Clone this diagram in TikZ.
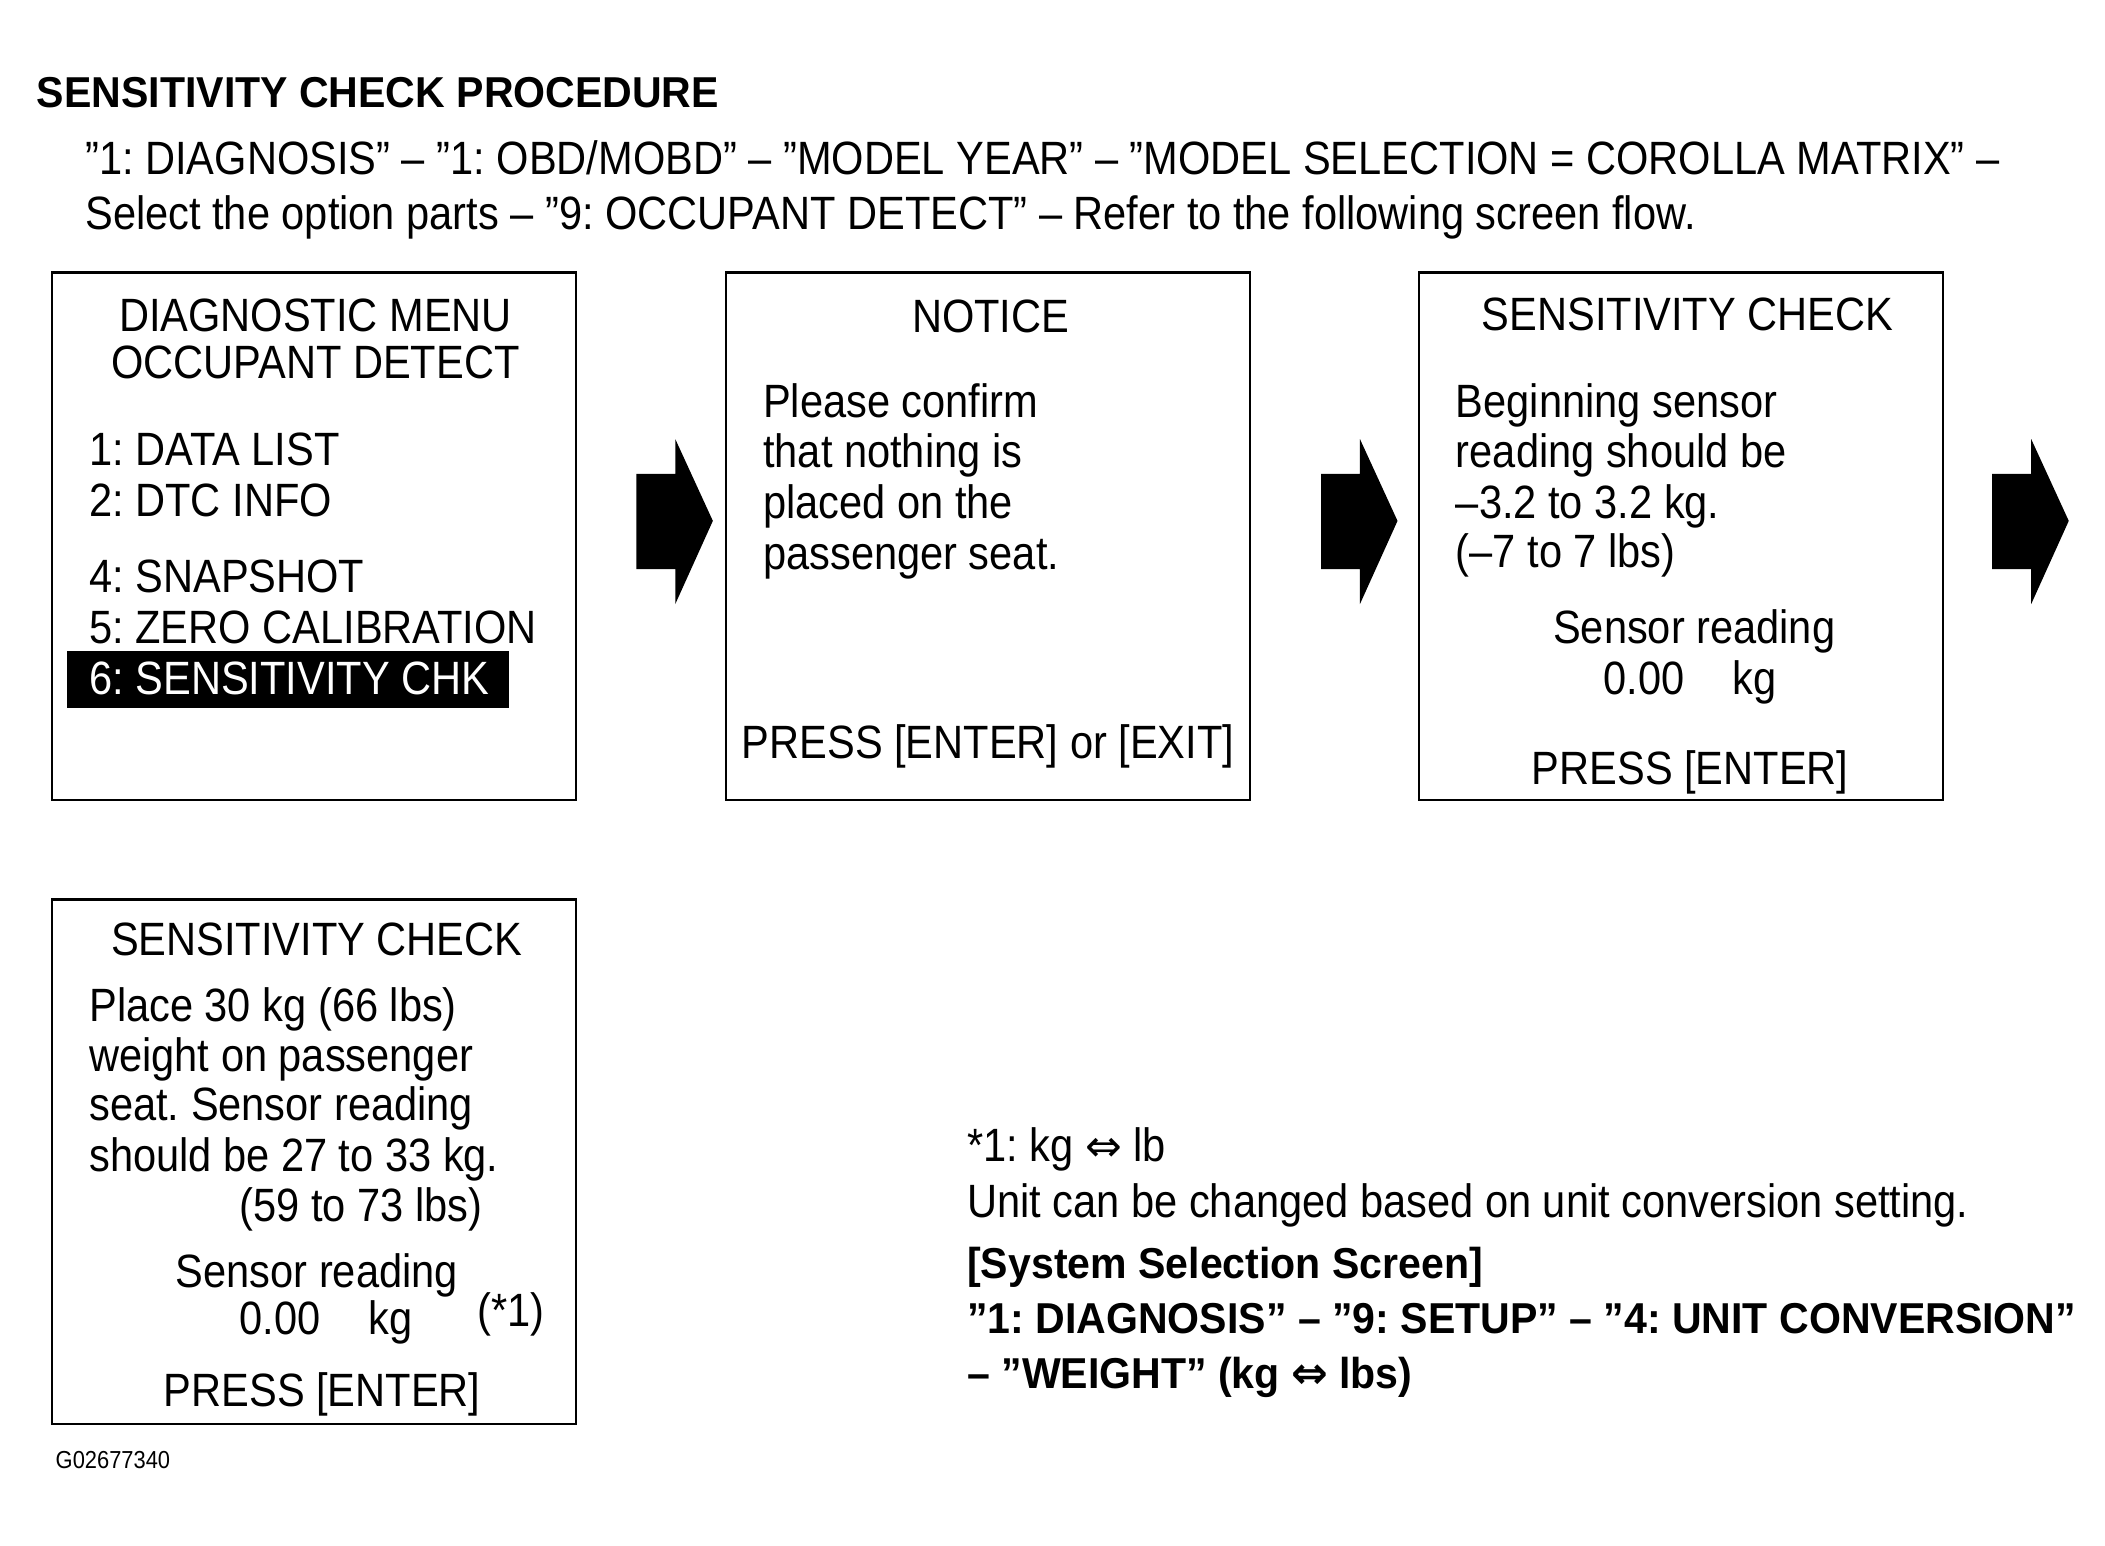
\documentclass[tikz,border=0pt]{standalone}
\usepackage{fontspec}
\setmainfont{Liberation Sans}[FakeStretch=0.89]
\newfontfamily\headfont{Liberation Sans}[FakeStretch=0.95]
\newfontfamily\symfont{DejaVu Sans}
\newcommand{\kgarr}{{\symfont\fontsize{12.5}{14}\selectfont ⇔}}
\frenchspacing

\begin{document}
\begin{tikzpicture}[x=0.013425cm, y=-0.013425cm,
	screen/.style={line width=0.6pt},
	txt/.style={inner sep=0pt, font=\fontsize{13.3}{16}\selectfont},
	head/.style={inner sep=0pt, font=\headfont\bfseries\fontsize{12.3}{15}\selectfont}]
		\useasboundingbox (0,0) rectangle (1568,1151);
		
		% Heading and path
		\node[head, anchor=base west] (title) at (27,80) {SENSITIVITY CHECK PROCEDURE};
		\node[txt, anchor=base west] (path1) at (63,130) {”1: DIAGNOSIS” – ”1: OBD/MOBD” – ”MODEL YEAR” – ”MODEL SELECTION = COROLLA MATRIX” –};
		\node[txt, anchor=base west] (path2) at (63,171) {Select the option parts – ”9: OCCUPANT DETECT” – Refer to the following screen flow.};
		
		% Draw the screens
		\draw[screen] (39,203) rectangle (429,596);
		\draw[screen] (541,203) rectangle (931,596);
		\draw[screen] (1057,203) rectangle (1447,596);
		\draw[screen] (39,670) rectangle (429,1061);
		
		% Draw the flow arrows
		\foreach \ax in {474,984,1484} {
			\fill (\ax,353) -- (\ax+29,353) -- (\ax+29,327) -- (\ax+57,388)
				-- (\ax+29,450) -- (\ax+29,424) -- (\ax,424) -- cycle;
		}
		
		% Screen 1: diagnostic menu
		\node[txt, anchor=base] (menu1) at (235,247) {DIAGNOSTIC MENU};
		\node[txt, anchor=base] (menu2) at (235,282) {OCCUPANT DETECT};
		\node[txt, anchor=base west] (item1) at (66,347) {1: DATA LIST};
		\node[txt, anchor=base west] (item2) at (66,385) {2: DTC INFO};
		\node[txt, anchor=base west] (item4) at (66,441) {4: SNAPSHOT};
		\node[txt, anchor=base west] (item5) at (66,479) {5: ZERO CALIBRATION};
		\fill[black] (50,485) rectangle (379,527);
		\node[txt, anchor=base west, text=white] (item6) at (66,517) {6: SENSITIVITY CHK};
		
		% Screen 2: notice
		\node[txt, anchor=base] (notice) at (738,248) {NOTICE};
		\node[txt, anchor=base west] (note1) at (568,311) {Please confirm};
		\node[txt, anchor=base west] (note2) at (568,348) {that nothing is};
		\node[txt, anchor=base west] (note3) at (568,386) {placed on the};
		\node[txt, anchor=base west] (note4) at (568,424) {passenger seat.};
		\node[txt, anchor=base] (press2) at (736,565) {PRESS [ENTER] or [EXIT]};
		
		% Screen 3: beginning reading
		\node[txt, anchor=base] (check3) at (1257,246) {SENSITIVITY CHECK};
		\node[txt, anchor=base west] (begin1) at (1084,311) {Beginning sensor};
		\node[txt, anchor=base west] (begin2) at (1084,348) {reading should be};
		\node[txt, anchor=base west] (begin3) at (1084,386) {–3.2 to 3.2 kg.};
		\node[txt, anchor=base west] (begin4) at (1084,423) {(–7 to 7 lbs)};
		\node[txt, anchor=base] (read3) at (1262,479) {Sensor reading};
		\node[txt, anchor=base west] (val3) at (1194,517) {0.00};
		\node[txt, anchor=base west] (unit3) at (1290,517) {kg};
		\node[txt, anchor=base] (press3) at (1259,584) {PRESS [ENTER]};
		
		% Screen 4: weighted reading
		\node[txt, anchor=base] (check4) at (236,712) {SENSITIVITY CHECK};
		\node[txt, anchor=base west] (place1) at (66,761) {Place 30 kg (66 lbs)};
		\node[txt, anchor=base west] (place2) at (66,798) {weight on passenger};
		\node[txt, anchor=base west] (place3) at (66,835) {seat. Sensor reading};
		\node[txt, anchor=base west] (place4) at (66,873) {should be 27 to 33 kg.};
		\node[txt, anchor=base west] (place5) at (178,910) {(59 to 73 lbs)};
		\node[txt, anchor=base] (read4) at (236,959) {Sensor reading};
		\node[txt, anchor=base west] (val4) at (178,994) {0.00};
		\node[txt, anchor=base west] (unit4) at (274,994) {kg};
		\node[txt, anchor=base west] (star4) at (355,988) {(*1)};
		\node[txt, anchor=base] (press4) at (240,1048) {PRESS [ENTER]};
		
		% Unit note
		\node[txt, anchor=base west] (unitnote) at (720,865) {*1: kg \kgarr{} lb};
		\node[txt, anchor=base west] (unittext) at (720,907) {Unit can be changed based on unit conversion setting.};
		\node[head, anchor=base west] (sysscreen) at (720,952) {[System Selection Screen]};
		\node[head, anchor=base west] (syspath1) at (720,993) {”1: DIAGNOSIS” – ”9: SETUP” – ”4: UNIT CONVERSION”};
		\node[head, anchor=base west] (syspath2) at (720,1034) {– ”WEIGHT” (kg \kgarr{} lbs)};
		
		% Figure code
		\node[inner sep=0pt, anchor=base west, font=\fontsize{7}{8}\selectfont] (figcode) at (41,1094) {G02677340};
	\end{tikzpicture}
\end{document}
